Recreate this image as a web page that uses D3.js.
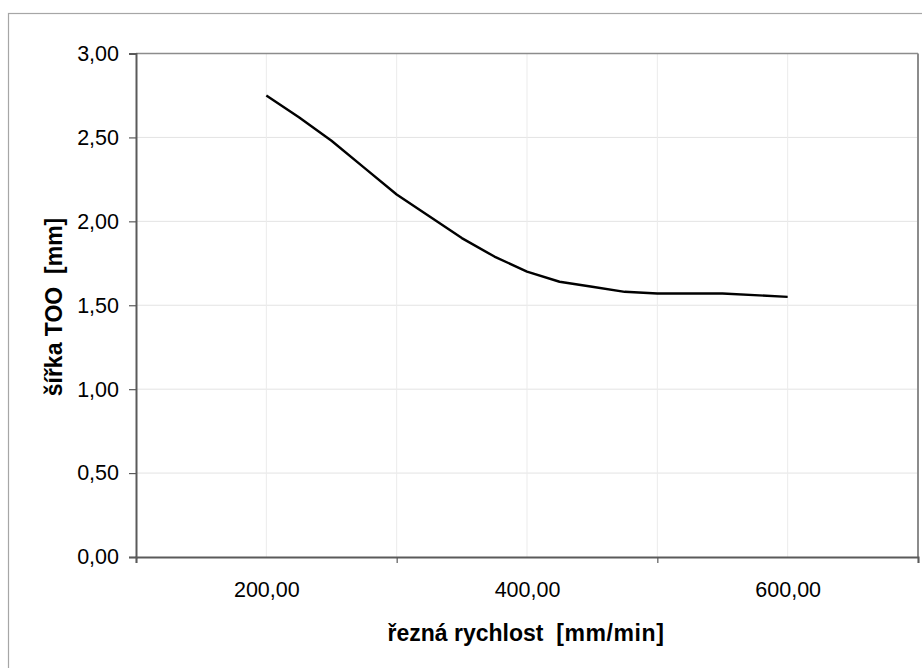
<!DOCTYPE html>
<html>
<head>
<meta charset="utf-8">
<script src="https://cdn.jsdelivr.net/npm/d3@7"></script>
<style>
  html, body { margin: 0; padding: 0; background: #fff; }
  svg { display: block; font-family: "Liberation Sans", Arial, Helvetica, sans-serif; }
  svg text { white-space: pre; }
</style>
</head>
<body>
<svg id="chart" width="922" height="668"></svg>
<script>
// ---- data ----
const speeds = [200, 225, 250, 275, 300, 325, 350, 375, 400, 425, 450, 475, 500, 550, 600];
const widths = [2.75, 2.62, 2.48, 2.32, 2.16, 2.03, 1.90, 1.79, 1.70, 1.64, 1.61, 1.58, 1.57, 1.57, 1.55];
const xGridValues = [100, 200, 300, 400, 500, 600, 700];
const xTickMarkValues = [100, 300, 500, 700];
const xLabelValues = [200, 400, 600];
const yTickValues = [0, 0.5, 1.0, 1.5, 2.0, 2.5, 3.0];
const xTitle = "řezná rychlost\u00a0 ";
const xTitleUnit = "[mm/min]";
const yTitle = "šířka TOO\u00a0 [mm]";

// ---- layout ----
const svg = d3.select("#chart");
const plot = { left: 136, top: 53.5, right: 918, bottom: 557 };

const x = d3.scaleLinear().domain([100, 700]).range([plot.left, plot.right]);
const y = d3.scaleLinear().domain([0, 3]).range([plot.bottom, plot.top]);
const fmt = v => d3.format(".2f")(v).replace(".", ",");

// outer chart frame
svg.append("rect")
  .attr("x", 8.5).attr("y", 13.5)
  .attr("width", 930).attr("height", 700)
  .attr("fill", "#fff").attr("stroke", "#a6a6a6").attr("stroke-width", 1.2);

// gridlines
svg.append("g").selectAll("line").data(yTickValues.filter(v => v > 0 && v < 3)).join("line")
  .attr("x1", plot.left).attr("x2", plot.right)
  .attr("y1", d => y(d)).attr("y2", d => y(d))
  .attr("stroke", "#e3e3e3").attr("stroke-width", 1);
svg.append("g").selectAll("line").data(xGridValues.filter(v => v > 100 && v < 700)).join("line")
  .attr("y1", plot.top).attr("y2", plot.bottom)
  .attr("x1", d => x(d)).attr("x2", d => x(d))
  .attr("stroke", "#ebebeb").attr("stroke-width", 1);

// top and right plot borders
svg.append("line").attr("x1", plot.left).attr("x2", plot.right)
  .attr("y1", plot.top).attr("y2", plot.top)
  .attr("stroke", "#8c8c8c").attr("stroke-width", 1.5);
svg.append("line").attr("x1", plot.right).attr("x2", plot.right)
  .attr("y1", plot.top).attr("y2", plot.bottom)
  .attr("stroke", "#8c8c8c").attr("stroke-width", 2);

// x axis: tick marks
const xTicksAxis = svg.append("g")
  .attr("transform", `translate(0,${plot.bottom})`)
  .call(d3.axisBottom(x).tickValues(xTickMarkValues).tickSize(6).tickFormat(""));
xTicksAxis.select(".domain").attr("stroke", "#5a5a5a").attr("stroke-width", 2);
xTicksAxis.selectAll(".tick line").attr("stroke", "#5a5a5a").attr("stroke-width", 1.2);

// x axis: labels
const xLabelAxis = svg.append("g")
  .attr("transform", `translate(0,${plot.bottom})`)
  .call(d3.axisBottom(x).tickValues(xLabelValues).tickSize(0).tickPadding(0).tickFormat(fmt));
xLabelAxis.select(".domain").remove();
xLabelAxis.selectAll(".tick text")
  .attr("y", 40).attr("dy", null)
  .attr("font-size", 21.5).attr("fill", "#000")
  .attr("font-family", "'Liberation Sans', Arial, sans-serif");

// y axis
const yAxis = svg.append("g")
  .attr("transform", `translate(${plot.left},0)`)
  .call(d3.axisLeft(y).tickValues(yTickValues).tickSize(7).tickPadding(10).tickFormat(fmt));
yAxis.select(".domain").attr("stroke", "#5a5a5a").attr("stroke-width", 2);
yAxis.selectAll(".tick line").attr("stroke", "#5a5a5a").attr("stroke-width", 1.2);
yAxis.selectAll(".tick text")
  .attr("font-size", 21.5).attr("fill", "#000")
  .attr("font-family", "'Liberation Sans', Arial, sans-serif");

// data line
const line = d3.line().x((d, i) => x(speeds[i])).y(d => y(d));
svg.append("path")
  .attr("d", line(widths))
  .attr("fill", "none").attr("stroke", "#000").attr("stroke-width", 2.4)
  .attr("stroke-linejoin", "round");

// axis titles
const xt = svg.append("text")
  .attr("x", 526).attr("y", 641)
  .attr("text-anchor", "middle")
  .attr("font-size", 23).attr("font-weight", "bold").attr("fill", "#000");
xt.append("tspan").text(xTitle);
xt.append("tspan").attr("letter-spacing", 0.6).text(xTitleUnit);

svg.append("text")
  .attr("transform", "translate(62,307) rotate(-90)")
  .attr("text-anchor", "middle")
  .attr("font-size", 23).attr("font-weight", "bold").attr("fill", "#000")
  .text(yTitle);
</script>
</body>
</html>
